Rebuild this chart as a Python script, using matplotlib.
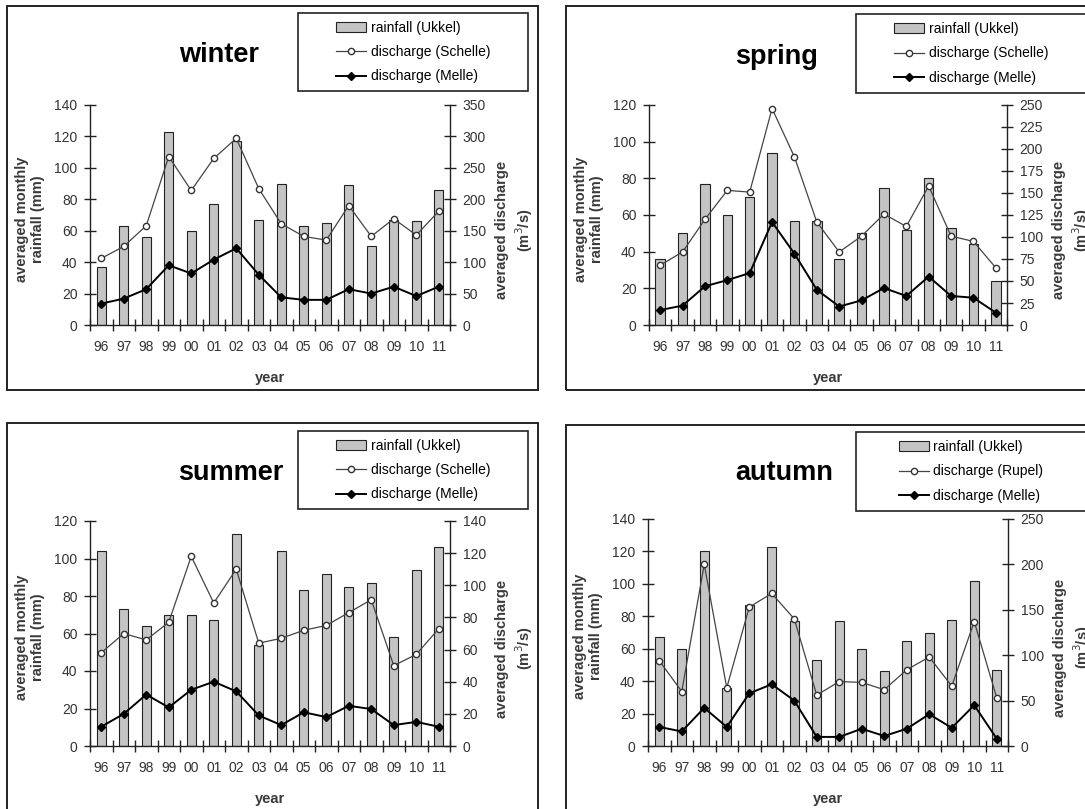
import matplotlib
matplotlib.use('Agg')
import matplotlib.pyplot as plt
import numpy as np
from matplotlib.patches import Rectangle, Patch
from matplotlib.lines import Line2D

plt.rcParams['font.family'] = ['Liberation Sans', 'DejaVu Sans']

W, H = 1085, 809

YEARS = ['96', '97', '98', '99', '00', '01', '02', '03',
         '04', '05', '06', '07', '08', '09', '10', '11']

# seasonal values (rainfall in mm, discharge in m3/s)
WINTER_RAIN = [37, 63, 56, 123, 60, 77, 117, 67, 90, 63, 65, 89, 50, 67, 66, 86]
WINTER_SCHELLE = [106, 125, 158, 268, 214, 265, 297, 217, 161, 141, 135, 190, 141, 169, 143, 181]
WINTER_MELLE = [34, 42, 57, 95, 82, 104, 122, 80, 44, 40, 40, 57, 50, 61, 46, 61]

SPRING_RAIN = [36, 50, 77, 60, 70, 94, 57, 57, 36, 50, 75, 52, 80, 53, 44, 24]
SPRING_SCHELLE = [68, 83, 120, 153, 151, 246, 191, 117, 83, 101, 126, 112, 158, 101, 95, 65]
SPRING_MELLE = [17, 22, 44, 51, 59, 117, 81, 40, 21, 28, 42, 33, 55, 33, 31, 14]

SUMMER_RAIN = [104, 73, 64, 70, 70, 67, 113, 54, 104, 83, 92, 85, 87, 58, 94, 106]
SUMMER_SCHELLE = [58, 70, 66, 77, 118, 89, 110, 64, 67, 72, 75, 83, 91, 50, 57, 73]
SUMMER_MELLE = [12, 20, 32, 24, 35, 40, 34, 19, 13, 21, 18, 25, 23, 13, 15, 12]

AUTUMN_RAIN = [67, 60, 120, 36, 87, 123, 77, 53, 77, 60, 46, 65, 70, 78, 102, 47]
AUTUMN_RUPEL = [94, 60, 200, 64, 153, 168, 140, 56, 71, 70, 62, 84, 98, 66, 137, 53]
AUTUMN_MELLE = [21, 16, 42, 21, 58, 68, 50, 10, 10, 19, 11, 19, 35, 20, 45, 8]

TXT = '#333333'
EDGE = '#222222'


def fig_box(x0, y0, x1, y1):
    # pixel box (top-left origin) -> figure fraction [left, bottom, w, h]
    return [x0 / W, 1 - y1 / H, (x1 - x0) / W, (y1 - y0) / H]


fig = plt.figure(figsize=(W / 100, H / 100), dpi=100)
fig.patch.set_facecolor('white')

panels = [
    # title, rain, d1, d2, d1 name, left max, right max, right step, frame, axes, legend, title pos
    ('winter', WINTER_RAIN, WINTER_SCHELLE, WINTER_MELLE, 'Schelle', 140, 350, 50,
     (7, 6, 538, 390), (90, 105, 450, 325), (298, 13, 528, 91), (219, 55)),
    ('spring', SPRING_RAIN, SPRING_SCHELLE, SPRING_MELLE, 'Schelle', 120, 250, 25,
     (566, 6, 1100, 390), (649, 105, 1007, 325), (856, 14, 1090, 93), (776, 57)),
    ('summer', SUMMER_RAIN, SUMMER_SCHELLE, SUMMER_MELLE, 'Schelle', 120, 140, 20,
     (7, 423, 538, 830), (90, 521, 450, 746), (298, 431, 528, 509), (231, 473)),
    ('autumn', AUTUMN_RAIN, AUTUMN_RUPEL, AUTUMN_MELLE, 'Rupel', 140, 250, 50,
     (566, 425, 1100, 830), (648, 519, 1008, 746), (856, 432, 1090, 511), (784, 473)),
]

x = np.arange(len(YEARS))

for (name, rain, d1, d2, d1name, lmax, rmax, rstep,
     frame, axbox, legbox, tpos) in panels:
    fr = Rectangle((frame[0] / W, 1 - frame[3] / H), (frame[2] - frame[0]) / W,
                   (frame[3] - frame[1]) / H, transform=fig.transFigure,
                   fill=False, ec=EDGE, lw=1.4)
    fig.add_artist(fr)

    ax = fig.add_axes(fig_box(*axbox))
    ax.bar(x, rain, width=0.42, color='#c4c4c4', edgecolor=EDGE, linewidth=0.8)
    ax.set_xlim(-0.5, len(YEARS) - 0.5)
    ax.set_ylim(0, lmax)
    ax.set_yticks(np.arange(0, lmax + 1, 20))
    ax.set_xticks(x)
    ax.set_xticklabels(YEARS)
    ax.set_xticks(np.arange(-0.5, len(YEARS), 1), minor=True)
    ax.tick_params(axis='x', which='major', length=0, pad=11, labelsize=10, labelcolor=TXT)
    ax.tick_params(axis='x', which='minor', length=8, width=1, direction='inout', color=EDGE)
    ax.tick_params(axis='y', length=8, width=1, direction='inout', pad=5,
                   labelsize=10, labelcolor=TXT, color=EDGE)

    ax2 = ax.twinx()
    ax2.plot(x, d1, color='#444444', lw=0.9, marker='o', ms=4.5,
             mfc='white', mec='#333333', mew=1.0)
    ax2.plot(x, d2, color='black', lw=1.4, marker='D', ms=4.5,
             mfc='black', mec='black')
    ax2.set_ylim(0, rmax)
    ax2.set_yticks(np.arange(0, rmax + 1, rstep))
    ax2.tick_params(axis='y', length=8, width=1, direction='inout', pad=5,
                    labelsize=10, labelcolor=TXT, color=EDGE)

    for a in (ax, ax2):
        a.set_facecolor('none')
        a.spines['top'].set_visible(False)
        for s in ('left', 'right', 'bottom'):
            a.spines[s].set_color(EDGE)
            a.spines[s].set_linewidth(1.0)
    ax.spines['right'].set_visible(False)
    ax2.spines['left'].set_visible(False)
    ax2.spines['bottom'].set_visible(False)

    # axis labels
    xl, yt, xr, yb = axbox
    cy = (yt + yb) / 2
    fig.text((xl - 60) / W, 1 - (cy + 4) / H, 'averaged monthly\nrainfall (mm)',
             rotation=90, ha='center', va='center', fontsize=10.5,
             fontweight='bold', color='#3a3a3a', linespacing=1.15)
    fig.text((xr + 65) / W, 1 - (cy + 15) / H, 'averaged discharge\n(m$^3$/s)',
             rotation=90, ha='center', va='center', fontsize=10.5,
             fontweight='bold', color='#3a3a3a', linespacing=1.2)
    fig.text((xl + xr) / 2 / W, 1 - (yb + 53) / H, 'year', ha='center', va='center',
             fontsize=10.5, fontweight='bold', color='#3a3a3a')

    fig.text(tpos[0] / W, 1 - tpos[1] / H, name, ha='center', va='center',
             fontsize=19.5, fontweight='bold', color='black')

    # legend
    lb = Rectangle((legbox[0] / W, 1 - legbox[3] / H), (legbox[2] - legbox[0]) / W,
                   (legbox[3] - legbox[1]) / H, transform=fig.transFigure,
                   fill=True, fc='white', ec=EDGE, lw=1.2)
    fig.add_artist(lb)
    handles = [
        Patch(facecolor='#c4c4c4', edgecolor=EDGE, linewidth=0.8),
        Line2D([], [], color='#444444', lw=0.9, marker='o', ms=4.5,
               mfc='white', mec='#333333', mew=1.0),
        Line2D([], [], color='black', lw=1.4, marker='D', ms=4.5, mfc='black'),
    ]
    labels = ['rainfall (Ukkel)', 'discharge (%s)' % d1name, 'discharge (Melle)']
    lcx = (legbox[0] + min(legbox[2], 1086)) / 2
    lcy = (legbox[1] + legbox[3]) / 2
    fig.legend(handles, labels, loc='center', bbox_to_anchor=(lcx / W, 1 - lcy / H),
               frameon=False, fontsize=10, handlelength=2.2, handletextpad=0.3,
               labelspacing=0.75, labelcolor='black')

fig.savefig('out.png', dpi=100)
